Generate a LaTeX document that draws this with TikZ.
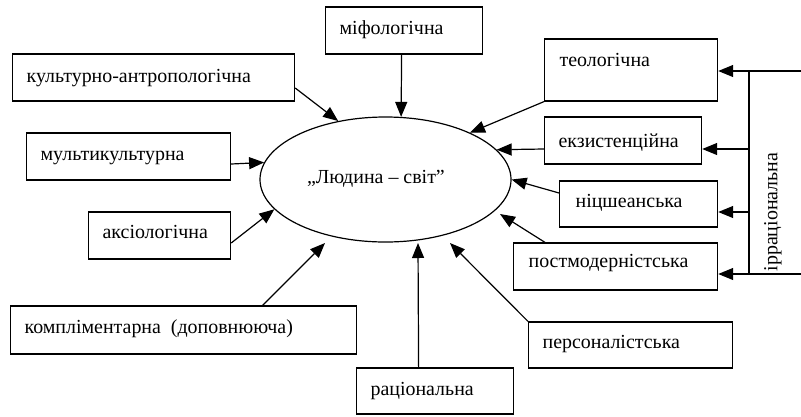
\documentclass[tikz,border=0pt]{standalone}
\usepackage{fontspec}
\setmainfont{Liberation Serif}
\usetikzlibrary{arrows.meta,shapes.geometric}
\newcommand{\boxtext}[2]{\makebox[#1][l]{#2}}
\begin{document}
\begin{tikzpicture}[x=1bp,y=-1bp,
  font=\fontsize{20}{24}\selectfont,
  lw/.style={line width=1.2bp},
  box/.style={draw, lw, inner xsep=14bp, inner ysep=0pt, anchor=base west},
  arr/.style={lw, -{Triangle[length=15bp,width=12bp]}}]
\useasboundingbox (0,0) rectangle (801,416);

% central ellipse
\node[draw, lw, ellipse, minimum width=251bp, minimum height=125bp, inner sep=0pt,
      text height=10bp, text depth=3bp] (e) at (385.5,179.5) {\boxtext{157bp}{„Людина – світ”}};

% boxes
\node[box, text height=27bp, text depth=20bp] (mif)   at (325,34)  {\boxtext{129bp}{міфологічна}};
\node[box, text height=28bp, text depth=19bp] (kult)  at (12,82)   {\boxtext{254bp}{культурно-антропологічна}};
\node[box, text height=27bp, text depth=20bp] (multi) at (26,160)  {\boxtext{176bp}{мультикультурна}};
\node[box, text height=26bp, text depth=21bp] (aksio) at (88,238)  {\boxtext{114bp}{аксіологічна}};
\node[box, text height=27bp, text depth=21bp] (kompl) at (10,333)  {\boxtext{318bp}{компліментарна\ \ (доповнююча)}};
\node[box, text height=27bp, text depth=19bp] (rac)   at (356,395) {\boxtext{129bp}{раціональна}};
\node[box, text height=26bp, text depth=20bp] (pers)  at (528,348) {\boxtext{176bp}{персоналістська}};
\node[box, inner xsep=15bp, text height=24bp, text depth=23bp] (post) at (513,267) {\boxtext{174bp}{постмодерністська}};
\node[box, inner xsep=16bp, text height=26bp, text depth=20bp] (nits) at (559,207) {\boxtext{126bp}{ніцшеанська}};
\node[box, text height=30bp, text depth=17bp] (ekz)   at (544,147) {\boxtext{129bp}{екзистенційна}};
\node[box, inner xsep=15bp, text height=27bp, text depth=35bp] (teol) at (544,66) {\boxtext{143bp}{теологічна}};

% arrows into the ellipse
\draw[arr] ([xshift=-2.5bp]mif.south) -- (e.76.07);
\draw[arr] ([yshift=-10.5bp]kult.east) -- (e.129.1);
\draw[arr] ([yshift=-7.5bp]multi.east) -- (e.172.74);
\draw[arr] ([yshift=-7.5bp]aksio.east) -- (e.195.8);
\draw[arr] (teol.south west) -- (e.29.4);
\draw[arr] ([yshift=-8.5bp]ekz.west) -- (e.15.55);
\draw[arr] ([yshift=11bp]nits.west) -- (e.0);

\coordinate (komplTip) at (325,243);
\coordinate (racTip) at (418,243);
\coordinate (persTip) at (450,243);
\coordinate (postTip) at (500,214);
\draw[arr] ([xshift=79bp]kompl.north) -- (komplTip);
\draw[arr] ([xshift=-16.5bp]rac.north) -- (racTip);
\draw[arr] (pers.north west) -- (persTip);
\draw[arr] ([xshift=32bp]post.north west) -- (postTip);

% irrational bracket
\coordinate (tR) at (801,71);
\coordinate (bR) at (801,274);
\coordinate (vT) at (749,71);
\coordinate (vB) at (749,274);
\coordinate (ekzR) at ([yshift=-8.5bp]ekz.east);
\coordinate (nitsR) at ([yshift=-8bp]nits.east);
\draw[lw] (vT) -- (vB);
\draw[arr] (tR) -- (teol.east |- tR);
\draw[arr] (bR) -- (post.east |- bR);
\draw[arr] (vT |- ekzR) -- (ekzR);
\draw[arr] (vT |- nitsR) -- (nitsR);
\node[rotate=90] (irr) at (773,212) {ірраціональна};
\end{tikzpicture}
\end{document}
